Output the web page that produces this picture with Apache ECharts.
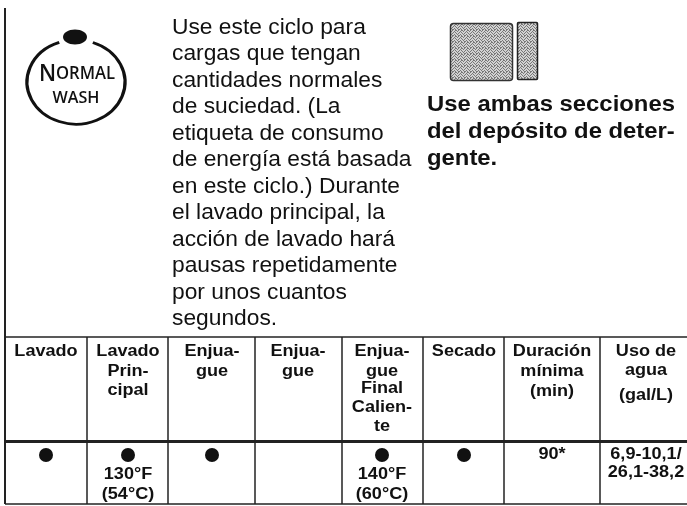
<!DOCTYPE html>
<html>
<head>
<meta charset="utf-8">
<style>html,body{margin:0;padding:0;background:#fff}#main{width:687px;height:506px}</style>
<script src="https://cdn.jsdelivr.net/npm/echarts@6/dist/echarts.min.js"></script>
</head>
<body>
<div id="main"></div>
<script>
const paragraph = ['Use este ciclo para', 'cargas que tengan', 'cantidades normales', 'de suciedad. (La',
  'etiqueta de consumo', 'de energía está basada', 'en este ciclo.) Durante', 'el lavado principal, la',
  'acción de lavado hará', 'pausas repetidamente', 'por unos cuantos', 'segundos.'];
const note = ['Use ambas secciones', 'del depósito de deter-', 'gente.'];
const headers = [['Lavado'], ['Lavado', 'Prin-', 'cipal'], ['Enjua-', 'gue'], ['Enjua-', 'gue'],
  ['Enjua-', 'gue', 'Final', 'Calien-', 'te'], ['Secado'], ['Duración', 'mínima', '(min)'], ['Uso de', 'agua', '(gal/L)']];
const dots = [true, true, true, false, true, true, false, false];
const cellText = [[], ['130°F', '(54°C)'], [], [], ['140°F', '(60°C)'], [], ['90*'], ['6,9-10,1/', '26,1-38,2']];

// layout of the page, in pixels
const colEdges = [5, 87, 168, 255, 342, 423, 504, 600];
const colCenters = [46, 128, 212, 298, 382, 464, 552, 646];
const headLineY = {
  0: [352], 1: [352, 372, 391], 2: [352, 372], 3: [352, 372],
  4: [352, 372, 389, 408, 427], 5: [352], 6: [352, 372, 392], 7: [352, 371, 396]
};
const black = '#111';
const headFont = 'bold 16px "Liberation Sans"';

function makeDither() {
  const c = document.createElement('canvas');
  c.width = c.height = 6;
  const g = c.getContext('2d');
  g.fillStyle = '#d2d2d2';
  g.fillRect(0, 0, 6, 6);
  g.fillStyle = '#777';
  [[0, 0], [2, 0], [4, 1], [1, 1], [3, 2], [5, 2], [0, 3], [2, 3], [4, 4], [1, 4], [3, 5], [5, 5], [5, 0], [2, 5]]
    .forEach(p => g.fillRect(p[0], p[1], 1, 1));
  return c;
}

function line(x1, y1, x2, y2, w) {
  return { type: 'line', shape: { x1, y1, x2, y2 }, style: { stroke: '#222', lineWidth: w } };
}
// the scan is stretched sideways, so text gets a scaleX as well as a size
function label(text, x, y, font, align, scaleX) {
  return {
    type: 'text', x, y, scaleX: scaleX || 1,
    style: { text, font, fill: black, align: align || 'left', verticalAlign: 'middle' }
  };
}

const els = [];
// frame and table rules
els.push(line(5, 8, 5, 504, 2));
els.push(line(5, 337, 687, 337, 1.5));
els.push(line(5, 441.5, 687, 441.5, 3));
els.push(line(5, 504, 687, 504, 1.5));
colEdges.slice(1).forEach(x => els.push(line(x, 337, x, 504, 1.5)));

// wash icon
els.push({
  type: 'arc', x: 76, y: 82, scaleY: 0.86,
  shape: { cx: 0, cy: 0, r: 49, startAngle: -1.22, endAngle: -1.92, clockwise: true },
  style: { stroke: black, lineWidth: 3.2, fill: null }
});
els.push({ type: 'ellipse', shape: { cx: 75, cy: 37, rx: 12, ry: 7.5 }, style: { fill: black } });
els.push({
  type: 'text', x: 77, y: 74, scaleX: 0.95,
  style: {
    text: '{a|N}{b|ORMAL}', fill: black, align: 'center', verticalAlign: 'middle',
    rich: {
      a: { font: '600 23px "Open Sans"', fill: black },
      b: { font: '600 17.5px "Open Sans"', fill: black }
    }
  }
});
els.push(label('WASH', 76, 98, '600 17px "Open Sans"', 'center', 0.95));

// detergent drawer
const dither = { image: makeDither(), repeat: 'repeat' };
els.push({ type: 'rect', shape: { x: 450.5, y: 23.5, width: 62, height: 57, r: 3 }, style: { fill: dither, stroke: '#333', lineWidth: 1.5 } });
els.push({ type: 'rect', shape: { x: 517.5, y: 22.5, width: 20, height: 57, r: 1 }, style: { fill: dither, stroke: '#222', lineWidth: 1.5 } });

// texts
paragraph.forEach((t, i) => els.push(label(t, 172, 28 + i * 26.5, '21.5px "Liberation Sans"', 'left', 1.06)));
note.forEach((t, i) => els.push(label(t, 427, 105 + i * 27, 'bold 22.5px "Liberation Sans"', 'left', 1.06)));

headers.forEach((lines, c) => {
  lines.forEach((t, i) => els.push(label(t, colCenters[c], headLineY[c][i], headFont, 'center', 1.13)));
});
dots.forEach((on, c) => {
  if (on) els.push({ type: 'circle', shape: { cx: colCenters[c], cy: 455, r: 7 }, style: { fill: black } });
});
cellText.forEach((lines, c) => {
  const two = lines.length === 2 && c === 7;
  lines.forEach((t, i) => {
    const y = c === 6 ? 455 : two ? 455 + i * 18 : 475 + i * 20;
    els.push(label(t, colCenters[c], y, headFont, 'center', 1.13));
  });
});

const chart = echarts.init(document.getElementById('main'), null, { width: 687, height: 506 });
chart.setOption({ animation: false, backgroundColor: '#fff', graphic: { elements: els } });
</script>
</body>
</html>
